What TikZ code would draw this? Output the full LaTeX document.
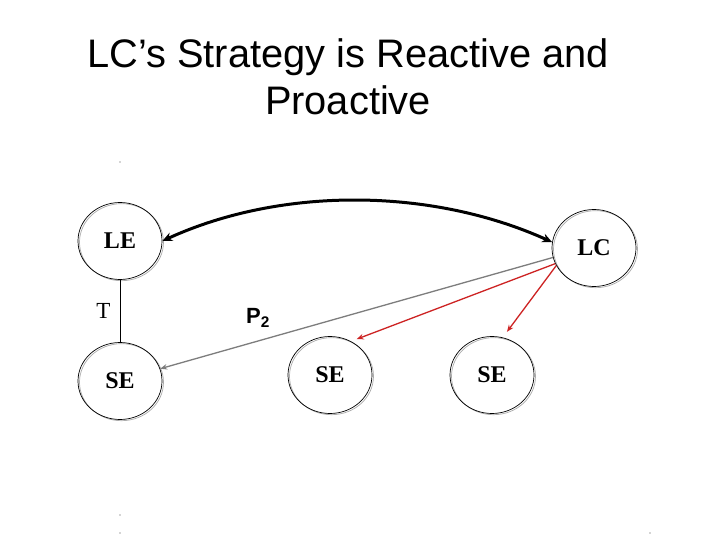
\documentclass[tikz,border=0pt]{standalone}
\usepackage{fontspec}
\setmainfont{Liberation Serif}
\newfontfamily\arialf{Liberation Sans}
\usetikzlibrary{shapes.geometric,arrows.meta,calc}
\definecolor{arrowred}{RGB}{205,35,35}
\definecolor{linegrey}{RGB}{125,125,125}
\begin{document}
\begin{tikzpicture}[x=1pt,y=-1pt,
  entity/.style={ellipse,draw,line width=0.7pt,minimum width=84pt,minimum height=77pt,inner sep=0pt,
     font=\fontsize{24}{28}\selectfont\bfseries},
  ghost/.style={draw=gray!65,line width=0.7pt},
  bigarrow/.style={line width=3pt,{Stealth[length=10pt,width=9pt]}-{Stealth[length=10pt,width=9pt]}},
  greyarrow/.style={draw=linegrey,line width=1.3pt,-{Stealth[length=7pt,width=5.5pt]}},
  redarrow/.style={draw=arrowred,line width=1.3pt,-{Stealth[length=7pt,width=5.5pt]}},
  speck/.style={fill=black!70,inner sep=0pt,minimum size=1.2pt,circle}]
\useasboundingbox (0,0) rectangle (720,540);
\fill[white] (0,0) rectangle (720,540);
% title
\node[font=\arialf\fontsize{39.8}{47}\selectfont,align=center] (title) at (348,77)
  {LC’s Strategy is Reactive and\\Proactive};
% ghost outlines (double-line look)
\foreach \cx/\cy in {120/241,120/381,594/248,330/375,492/375}
  \draw[ghost] (\cx+1.5,\cy+1.2) ellipse [x radius=42pt,y radius=38.5pt];
% nodes
\node[entity] (LE) at (120,241) {LE};
\node[entity] (SEl) at (120,381) {SE};
\node[entity] (LC) at (594,248) {LC};
\node[entity] (SEm) at (330,375) {SE};
\node[entity] (SEr) at (492,375) {SE};
% T link
\draw[line width=0.7pt] (LE.south) -- (SEl.north) node[midway,left=6pt,font=\fontsize{23}{26}\selectfont] (T) {T};
% P2 label
\node[font=\arialf\fontsize{22}{26}\selectfont\bfseries] (P2) at (258,318) {P\textsubscript{2}};
% big curved arrow
\draw[bigarrow] (LE.east) .. controls (280,187) and (430,187) .. (LC.172);
% grey arrow
\draw[greyarrow] (LC.193) -- (SEl.17);
% red arrows
\draw[redarrow,shorten >=6pt] (LC.202) -- (SEm.58);
\draw[redarrow,shorten >=7pt] (LC.205) -- (SEr.74);
% specks
\node[speck] (d1) at (120,162) {};
\node[speck] (d2) at (120,515) {};
\node[speck] (d3) at (120,533) {};
\node[speck] (d4) at (650,533) {};
\end{tikzpicture}
\end{document}
